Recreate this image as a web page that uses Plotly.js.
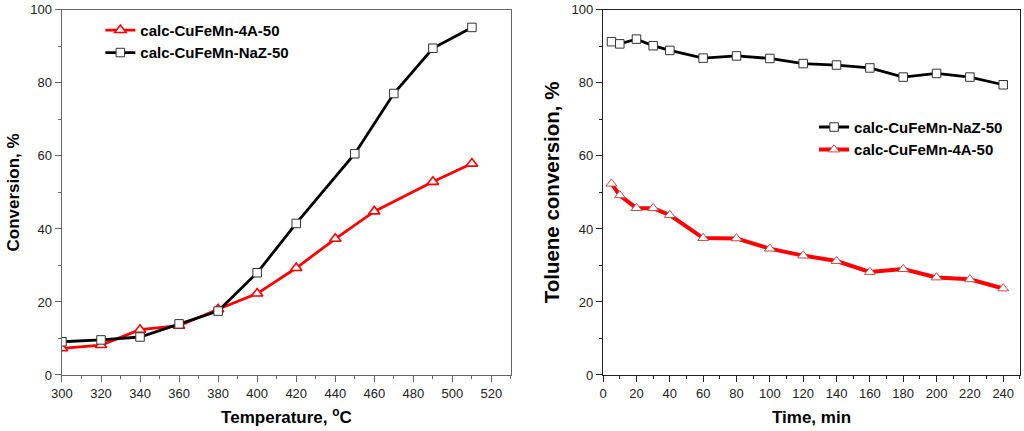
<!DOCTYPE html>
<html><head><meta charset="utf-8">
<script src="https://cdn.plot.ly/plotly-3.0.1.min.js"></script>
<style>html,body{margin:0;padding:0;background:#fff}#c{width:1024px;height:431px}</style>
</head><body><div id="c"></div>
<script>
const tempNaZ = [300,320,340,360,380,400,420,450,470,490,510];
const convNaZ = [9.1,9.6,10.4,14.0,17.5,28.0,41.5,60.6,77.1,89.5,95.2];
const temp4A = [300,320,340,360,380,400,420,440,460,490,510];
const conv4A = [7.3,8.2,12.4,13.5,18.0,22.3,29.3,37.3,44.8,52.9,57.9];
const timeMin = [5,10,20,30,40,60,80,100,120,140,160,180,200,220,240];
const timeNaZ = [91.3,90.7,92.0,90.2,88.9,86.8,87.4,86.7,85.3,84.9,84.1,81.6,82.6,81.6,79.5];
const time4A = [52.4,49.2,45.7,45.7,43.8,37.5,37.4,34.6,32.7,31.2,28.2,29.0,26.7,26.2,23.7];
const nameNaZ = 'calc-CuFeMn-NaZ-50';
const name4A = 'calc-CuFeMn-4A-50';

const F = 'Liberation Sans, Arial, sans-serif';
const traces = [
  {x: temp4A, y: conv4A, name: name4A, mode: 'lines+markers', xaxis: 'x', yaxis: 'y', legend: 'legend',
   line: {color: '#ff0000', width: 2.8}, marker: {symbol: 'triangle-up', size: 10, color: '#ffffff', line: {color: '#ff0000', width: 1.6}}},
  {x: tempNaZ, y: convNaZ, name: nameNaZ, mode: 'lines+markers', xaxis: 'x', yaxis: 'y', legend: 'legend',
   line: {color: '#000000', width: 2.8}, marker: {symbol: 'square', size: 8.5, color: '#ffffff', line: {color: '#333', width: 1}}},
  {x: timeMin, y: timeNaZ, name: nameNaZ, mode: 'lines+markers', xaxis: 'x2', yaxis: 'y2', legend: 'legend2',
   line: {color: '#000000', width: 2.8}, marker: {symbol: 'square', size: 8.5, color: '#ffffff', line: {color: '#333', width: 1}}},
  {x: timeMin, y: time4A, name: name4A, mode: 'lines+markers', xaxis: 'x2', yaxis: 'y2', legend: 'legend2',
   line: {color: '#ff0000', width: 4}, marker: {symbol: 'triangle-up', size: 9.5, color: '#ffffff', line: {color: '#c05050', width: 1}}}
];

function xax(range, dtick, domain, anchor, title, lc){
  return {domain: domain, anchor: anchor, range: range, dtick: dtick, tick0: 0,
    showline: true, mirror: true, linecolor: lc, linewidth: 1.3, ticks: 'outside', ticklen: 6, tickcolor: lc,
    minor: {dtick: dtick/2, ticks: 'outside', ticklen: 3, tickcolor: lc},
    showgrid: false, zeroline: false, tickfont: {family: F, size: 13, color: '#222'},
    title: {text: title, font: {family: F, size: 17, color: '#000', weight: 'bold'}, standoff: 11}};
}
function yax(domain, anchor, title, size, lc){
  return {domain: domain, anchor: anchor, range: [0, 100], dtick: 20,
    showline: true, mirror: true, linecolor: lc, linewidth: 1.3, ticks: 'outside', ticklen: 6, tickcolor: lc,
    minor: {dtick: 10, ticks: 'outside', ticklen: 3, tickcolor: lc},
    showgrid: false, zeroline: false, tickfont: {family: F, size: 13, color: '#222'},
    title: {text: title, font: {family: F, size: size, color: '#000', weight: 'bold'}, standoff: 6}};
}

const layout = {
  width: 1024, height: 431, margin: {l: 0, r: 0, t: 0, b: 0},
  paper_bgcolor: '#fff', plot_bgcolor: '#fff', showlegend: true,
  xaxis: xax([300, 530], 20, [0.0605, 0.499], 'y', 'Temperature, <sup>o</sup>C', '#666'),
  yaxis: yax([0.130, 0.977], 'x', 'Conversion, %', 17, '#666'),
  xaxis2: xax([0, 250], 20, [0.589, 0.996], 'y2', 'Time, min', '#222'),
  yaxis2: yax([0.130, 0.977], 'x2', 'Toluene conversion, %', 20.5, '#222'),
  legend: {x: 0.098, y: 0.968, xanchor: 'left', yanchor: 'top', bgcolor: 'rgba(0,0,0,0)',
    font: {family: F, size: 15, color: '#000', weight: 'bold'}, tracegroupgap: 0, itemwidth: 30},
  legend2: {x: 0.795, y: 0.743, xanchor: 'left', yanchor: 'top', bgcolor: 'rgba(0,0,0,0)',
    font: {family: F, size: 15, color: '#000', weight: 'bold'}, tracegroupgap: 0, itemwidth: 30}
};
Plotly.newPlot('c', traces, layout, {displayModeBar: false, staticPlot: true});
</script></body></html>
